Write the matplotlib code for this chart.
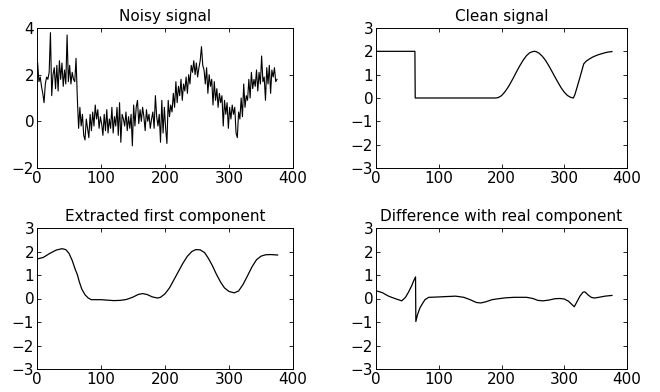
import numpy as np
import matplotlib
matplotlib.use("Agg")
import matplotlib.pyplot as plt

# ---------------- data ----------------
noisy_start = 1
noisy_step = 2
noisy_vals = [
    2.5, 1.7, 1.9, 1.5, 1.2, 0.8, 1.6, 1.9, 1.8, 2.1, 3.8, 1.1, 2.0, 2.3, 1.4, 2.4,
    1.3, 2.6, 1.8, 2.5, 1.5, 2.2, 1.6, 3.7, 1.7, 2.4, 1.6, 2.1, 1.8, 1.7, 2.7,
    1.0, -0.3, 0.6, -0.2, 0.3, -0.6, -0.8, 0.1, -0.3, -0.7, 0.3, -0.4, 0.4, -0.2,
    0.7, 0.1, 0.5, -0.3, 0.2, -0.1, -0.6, 0.3, -0.4, 0.5, -0.5, 0.1, -0.3, 0.6,
    -0.5, 0.2, -0.2, 0.6, -0.6, 0.8, -0.9, 0.3, 0.1, -0.2, 0.4, -0.4, 0.2, -0.3,
    0.3, -1.05, 0.7, -0.2, 0.6, 0.9, -0.1, 0.5, 0.0, 0.6, 0.2, -0.4, 0.5, 0.0,
    0.3, -0.3, 0.1, 0.4, -0.3, 1.1, 0.2, -0.2, 0.3, -0.9, 0.9, -0.5, 0.6, -0.3,
    -0.95, 0.9, 0.2, 0.7, 0.4, 1.2, 0.6, 1.7, 0.8, 1.5, 1.1, 1.8, 0.9, 1.6, 1.3,
    1.9, 1.2, 2.0, 1.6, 2.4, 2.1, 2.6, 2.0, 2.5, 1.9, 2.3, 2.6, 3.2, 2.4, 2.2,
    1.6, 2.3, 1.2, 2.0, 1.5, 1.8, 0.7, 1.7, 0.9, 1.4, 0.6, 1.2, 0.8, 1.1, -0.2,
    0.9, 0.3, 0.8, -0.3, 0.6, 0.1, 0.7, 0.3, 0.6, -0.5, -0.7, 0.4, 0.1, 1.0, 0.2,
    1.6, 0.6, 1.1, 0.9, 1.8, 1.0, 2.1, 1.4, 1.8, 1.5, 2.2, 1.3, 2.1, 1.6, 2.8,
    1.7, 1.9, 0.9, 2.3, 1.6, 2.4, 1.2, 2.2, 1.9, 2.3, 1.7, 1.8,
]

clean_x = [0, 62, 62.5, 191, 195, 200, 205, 210, 215, 220, 225, 230, 235, 240,
           245, 250, 252, 255, 260, 265, 270, 275, 280, 285, 290, 295, 300, 305,
           310, 314.5, 317, 320, 325, 331, 335, 340, 345, 350, 355, 360, 365,
           370, 376]
clean_y = [2, 2, 0, 0, 0.02, 0.1, 0.25, 0.44, 0.67, 0.92, 1.18, 1.42, 1.64,
           1.82, 1.94, 1.99, 2.0, 1.99, 1.92, 1.79, 1.62, 1.4, 1.16, 0.91, 0.67,
           0.44, 0.25, 0.11, 0.03, 0.0, 0.15, 0.42, 0.88, 1.46, 1.58, 1.67, 1.75,
           1.81, 1.86, 1.9, 1.94, 1.97, 1.99]

extr_x = [0, 10, 20, 30, 39, 45, 50, 55, 60, 63, 66, 70, 75, 80, 85, 90, 100,
          110, 120, 130, 140, 150, 158, 165, 172, 180, 188, 193, 200, 207, 214,
          220, 228, 235, 242, 248, 255, 262, 268, 274, 280, 287, 293, 300, 308,
          315, 322, 329, 336, 343, 350, 357, 365, 376]
extr_y = [1.68, 1.75, 1.92, 2.06, 2.12, 2.08, 1.92, 1.62, 1.22, 1.02, 0.72, 0.4,
          0.16, 0.02, -0.05, -0.05, -0.05, -0.07, -0.09, -0.08, -0.04, 0.06,
          0.17, 0.21, 0.17, 0.07, 0.02, 0.05, 0.2, 0.45, 0.8, 1.1, 1.5, 1.8,
          2.0, 2.08, 2.07, 1.95, 1.7, 1.4, 1.05, 0.69, 0.45, 0.3, 0.24, 0.32,
          0.6, 0.97, 1.35, 1.65, 1.8, 1.86, 1.87, 1.85]

diff_x = [0, 10, 20, 30, 41, 47, 52, 57, 60, 63, 63.5, 66, 70, 74, 78, 84, 95,
          110, 127, 140, 150, 160, 167, 175, 185, 195, 207, 220, 240, 250, 258,
          266, 275, 285, 293, 300, 307, 312, 316, 320, 325, 330, 333, 338, 343,
          348, 355, 365, 376]
diff_y = [0.33, 0.25, 0.1, 0.0, -0.1, 0.05, 0.28, 0.55, 0.75, 0.92, -0.98, -0.7,
          -0.4, -0.22, -0.05, 0.05, 0.06, 0.08, 0.1, 0.05, -0.05, -0.17, -0.19,
          -0.14, -0.05, -0.01, 0.03, 0.05, 0.05, 0.0, -0.08, -0.1, -0.07, -0.01,
          0.0, -0.02, -0.12, -0.25, -0.35, -0.15, 0.1, 0.27, 0.28, 0.15, 0.05,
          0.02, 0.05, 0.1, 0.13]

titles = ["Noisy signal", "Clean signal", "Extracted first component",
          "Difference with real component"]
xticks = [0, 100, 200, 300, 400]
yticks_noisy = [-2, 0, 2, 4]
yticks_other = [-3, -2, -1, 0, 1, 2, 3]

# ---------------- plot ----------------
plt.rcParams['font.family'] = ['DejaVu Sans']
plt.rcParams['font.size'] = 11

fig = plt.figure(figsize=(6.6, 3.92), dpi=100)
W, H = 660.0, 392.0
boxes = [(37, 28, 293, 168), (376, 28, 627, 168),
         (37, 228, 293, 369), (376, 228, 627, 369)]
axes = []
for (l, t, r, b) in boxes:
    ax = fig.add_axes([l / W, 1 - b / H, (r - l) / W, (b - t) / H])
    axes.append(ax)

noisy_x = noisy_start + noisy_step * np.arange(len(noisy_vals))
axes[0].plot(noisy_x, noisy_vals, color='black', lw=0.8)
axes[1].plot(clean_x, clean_y, color='black', lw=0.9)
axes[2].plot(extr_x, extr_y, color='black', lw=0.9)
axes[3].plot(diff_x, diff_y, color='black', lw=0.9)

for i, ax in enumerate(axes):
    ax.set_xlim(0, 400)
    ax.set_xticks(xticks)
    if i == 0:
        ax.set_ylim(-2, 4)
        ax.set_yticks(yticks_noisy)
    else:
        ax.set_ylim(-3, 3)
        ax.set_yticks(yticks_other)
    ax.set_title(titles[i], fontsize=11, pad=5)
    ax.tick_params(direction='in', length=3, width=0.6, top=True, right=True,
                   labelsize=11, pad=2)
    for s in ax.spines.values():
        s.set_linewidth(0.7)

fig.savefig("out.png", dpi=100)
